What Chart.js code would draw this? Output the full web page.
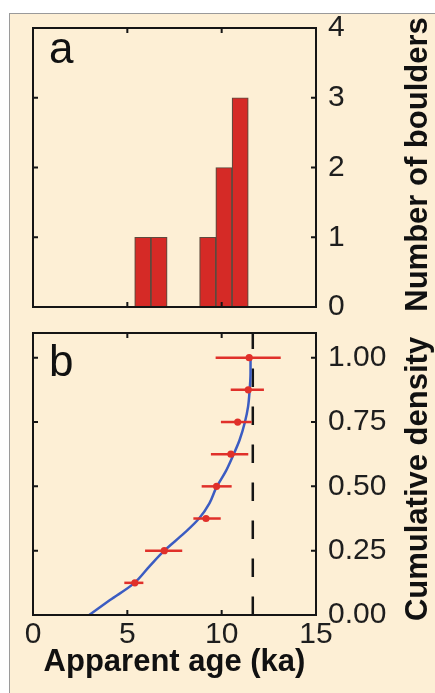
<!DOCTYPE html>
<html>
<head>
<meta charset="utf-8">
<title>Boulder ages</title>
<script src="https://cdn.jsdelivr.net/npm/chart.js@4/dist/chart.umd.min.js"></script>
<style>
  html, body { margin: 0; padding: 0; background: #fff; }
  #page { position: relative; width: 435px; height: 693px; overflow: hidden; }
  #frame {
    position: absolute; left: 9px; top: 13px; right: 0; bottom: 0;
    background: #fdefd5; border-left: 1px solid #9a9a9a; border-top: 1px solid #9a9a9a;
  }
  canvas { position: absolute; left: 0; }
  #histCanvas { top: 0; }
  #cdfCanvas { top: 320px; }
</style>
</head>
<body>
<div id="page">
  <div id="frame"></div>
  <canvas id="histCanvas" width="435" height="320"></canvas>
  <canvas id="cdfCanvas" width="435" height="373"></canvas>
</div>
<script>
'use strict';

// panel a: histogram
var histBinCenters = [5.82, 6.68, 9.26, 10.12, 10.98];
var histCounts = [1, 1, 1, 2, 3];
var countTicks = [0, 1, 2, 3, 4];

// panel b: individual boulder ages (ka) with error ranges
var boulderAges = [5.40, 6.96, 9.17, 9.73, 10.49, 10.85, 11.41, 11.46];
var ageErrLo = [4.84, 5.94, 8.50, 8.94, 9.43, 9.96, 10.48, 9.68];
var ageErrHi = [5.85, 7.91, 9.95, 10.53, 11.41, 11.59, 12.24, 13.13];
var cumDensity = [0.125, 0.25, 0.375, 0.5, 0.625, 0.75, 0.875, 1.0];
var densityTicks = [0, 0.25, 0.5, 0.75, 1.0];

// fitted curve (age as a function of density)
var curveDensity = [0, 0.058, 0.123, 0.188, 0.25, 0.317, 0.375, 0.434, 0.496, 0.556, 0.619, 0.68, 0.749, 0.81, 0.872, 0.94, 1.0];
var curveAge = [2.98, 4.08, 5.35, 6.16, 6.96, 8.0, 8.8, 9.35, 9.72, 10.2, 10.6, 10.95, 11.23, 11.4, 11.48, 11.53, 11.53];
var dashedAge = 11.65;

var ageTicks = [0, 5, 10, 15];

var FONT = '"Liberation Sans", Arial, Helvetica, sans-serif';
var TEXT = '#1e1e1e';
var RED = '#e0302a';

Chart.defaults.font.family = FONT;
Chart.defaults.color = TEXT;

function fixTicks(list) {
  return function (scale) {
    scale.ticks = list.map(function (v) { return { value: v }; });
  };
}

// keep tick labels from pushing the plot area around
function fixSize(dim, size) {
  return function (s) {
    s[dim] = size;
    s.paddingTop = 0; s.paddingBottom = 0;
    s.paddingLeft = 0; s.paddingRight = 0;
  };
}

/** box frame with inward ticks + panel letter + right rotated title */
function decorPlugin(letter, title, titleShift) {
  return {
    id: 'decor' + letter,
    afterDatasetsDraw: function (chart) {
      var ctx = chart.ctx;
      var a = chart.chartArea;
      var xs = chart.scales.x;
      var ys = chart.scales.y;
      var len = 5;
      ctx.save();
      ctx.strokeStyle = '#151515';
      ctx.lineWidth = 2;
      ctx.strokeRect(a.left, a.top, a.right - a.left, a.bottom - a.top);
      ctx.beginPath();
      xs.ticks.forEach(function (t) {
        var px = xs.getPixelForValue(t.value);
        ctx.moveTo(px, a.bottom); ctx.lineTo(px, a.bottom - len);
        ctx.moveTo(px, a.top); ctx.lineTo(px, a.top + len);
      });
      ys.ticks.forEach(function (t) {
        var py = ys.getPixelForValue(t.value);
        ctx.moveTo(a.left, py); ctx.lineTo(a.left + len, py);
        ctx.moveTo(a.right, py); ctx.lineTo(a.right - len, py);
      });
      ctx.stroke();

      ctx.fillStyle = '#111';
      ctx.font = '44px ' + FONT;
      ctx.textAlign = 'left';
      ctx.textBaseline = 'alphabetic';
      ctx.fillText(letter, a.left + 16, a.top + (letter === 'a' ? 35 : 43));

      ctx.translate(a.right + 102, (a.top + a.bottom) / 2 + titleShift);
      ctx.rotate(-Math.PI / 2);
      ctx.font = 'bold 31px ' + FONT;
      ctx.textAlign = 'center';
      ctx.textBaseline = 'middle';
      ctx.fillText(title, 0, 0);
      ctx.restore();
    }
  };
}

new Chart(document.getElementById('histCanvas'), {
  type: 'bar',
  data: {
    datasets: [{
      data: histBinCenters.map(function (c, i) { return { x: c, y: histCounts[i] }; }),
      backgroundColor: '#d52a26',
      borderColor: '#5e4a3e',
      borderWidth: 1.2,
      barPercentage: 1,
      categoryPercentage: 1
    }]
  },
  options: {
    responsive: false,
    animation: false,
    layout: { padding: { left: 33, top: 28, right: 0, bottom: 0 } },
    plugins: { legend: { display: false }, tooltip: { enabled: false } },
    scales: {
      x: {
        type: 'linear', min: 0, max: 15, offset: false,
        afterBuildTicks: fixTicks(ageTicks),
        ticks: { display: false },
        grid: { display: false, drawTicks: false },
        border: { display: false },
        afterFit: fixSize('height', 13)
      },
      y: {
        position: 'right', min: 0, max: 4,
        afterBuildTicks: fixTicks(countTicks),
        ticks: { padding: 12, font: { size: 30 }, color: TEXT },
        grid: { display: false, drawTicks: false },
        border: { display: false },
        afterFit: fixSize('width', 119)
      }
    }
  },
  plugins: [decorPlugin('a', 'Number of boulders', -3)]
});

var errorBarSets = boulderAges.map(function (age, i) {
  return {
    type: 'line',
    data: [{ x: ageErrLo[i], y: cumDensity[i] }, { x: ageErrHi[i], y: cumDensity[i] }],
    borderColor: RED,
    borderWidth: 2.5,
    pointRadius: 0,
    order: 1
  };
});

new Chart(document.getElementById('cdfCanvas'), {
  type: 'scatter',
  data: {
    datasets: [
      {
        data: boulderAges.map(function (x, i) { return { x: x, y: cumDensity[i] }; }),
        backgroundColor: RED,
        borderWidth: 0,
        pointRadius: 3.6,
        order: 0
      },
      {
        type: 'line',
        indexAxis: 'y',
        data: curveDensity.map(function (d, i) { return { x: curveAge[i], y: d }; }),
        borderColor: '#3b5cc2',
        borderWidth: 2.5,
        pointRadius: 0,
        cubicInterpolationMode: 'monotone',
        order: 2
      },
      {
        type: 'line',
        data: [{ x: dashedAge, y: 0 }, { x: dashedAge, y: 1.096 }],
        borderColor: '#151515',
        borderWidth: 2.5,
        borderDash: [18.5, 19.5],
        pointRadius: 0,
        order: 3
      }
    ].concat(errorBarSets)
  },
  options: {
    responsive: false,
    animation: false,
    layout: { padding: { left: 33, top: 13, right: 0, bottom: 0 } },
    plugins: { legend: { display: false }, tooltip: { enabled: false } },
    scales: {
      x: {
        type: 'linear', min: 0, max: 15,
        afterBuildTicks: fixTicks(ageTicks),
        ticks: { padding: 2, font: { size: 30 }, color: TEXT, maxRotation: 0 },
        grid: { display: false, drawTicks: false },
        border: { display: false },
        title: {
          display: true, text: 'Apparent age (ka)', color: '#111',
          font: { size: 31, weight: 'bold' }, padding: { top: 0, bottom: 12 }
        },
        afterFit: fixSize('height', 78)
      },
      y: {
        position: 'right', min: 0, max: 1.096,
        afterBuildTicks: fixTicks(densityTicks),
        ticks: {
          padding: 12, font: { size: 30 }, color: TEXT,
          callback: function (v) { return Number(v).toFixed(2); }
        },
        grid: { display: false, drawTicks: false },
        border: { display: false },
        afterFit: fixSize('width', 119)
      }
    }
  },
  plugins: [decorPlugin('b', 'Cumulative density', 5)]
});
</script>
</body>
</html>
